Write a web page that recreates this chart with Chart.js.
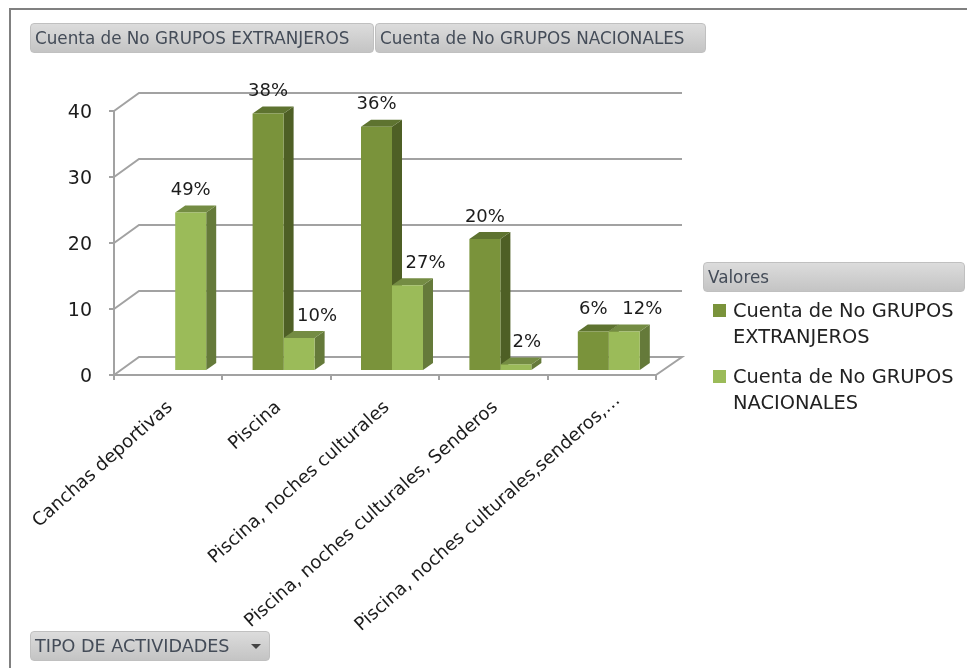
<!DOCTYPE html>
<html>
<head>
<meta charset="utf-8">
<title>Tipo de actividades</title>
<script src="https://cdn.jsdelivr.net/npm/chart.js@4"></script>
<style>
  html, body { margin: 0; padding: 0; background: #fff; overflow: hidden; }
  body { width: 967px; height: 668px; position: relative; font-family: "DejaVu Sans", sans-serif; }
  #frame { position: absolute; left: 9px; top: 8px; width: 958px; height: 660px; border-left: 2px solid #808080; border-top: 2px solid #808080; box-sizing: border-box; }
  #chart { position: absolute; left: 0; top: 0; }
  .field {
    position: absolute; box-sizing: border-box; height: 30px; line-height: 29px; padding-left: 4px;
    font-size: 16.8px; color: #444c58; white-space: nowrap; border-radius: 4px;
    background: linear-gradient(#dcdcdc, #c4c4c4); border: 1px solid #c0c0c0;
  }
  .arrow { position: absolute; right: 8px; top: 12px; width: 0; height: 0; border-left: 5px solid transparent; border-right: 5px solid transparent; border-top: 5px solid #444; }
  .legend-item { position: absolute; left: 733px; width: 234px; font-size: 19.4px; line-height: 26px; color: #222; white-space: nowrap; }
  .legend-item i { position: absolute; left: -20px; top: 6px; width: 13px; height: 13px; }
</style>
</head>
<body>
<div id="frame"></div>
<canvas id="chart" width="967" height="668"></canvas>
<div id="fields"></div>
<script>
const categories = [
  'Canchas deportivas',
  'Piscina',
  'Piscina, noches culturales',
  'Piscina, noches culturales, Senderos',
  'Piscina, noches culturales,senderos,…'
];
const seriesNames = ['Cuenta de No GRUPOS EXTRANJEROS', 'Cuenta de No GRUPOS NACIONALES'];
const extranjeros = [null, 39, 37, 20, 6];
const nacionales = [24, 5, 13, 1, 6];
const extranjerosPct = ['', '38%', '36%', '20%', '6%'];
const nacionalesPct = ['49%', '10%', '27%', '2%', '12%'];
const yTicks = [0, 10, 20, 30, 40];

const GRID = '#a2a2a2';
const FACES = [
  { front: '#7a933b', side: '#4e5f25', top: '#5e7330' },
  { front: '#9bbb59', side: '#657a3a', top: '#748c43' }
];
// floor and back wall are offset from the axes by this much
const WALL_X = 25, WALL_Y = -18;
// bars sit a little inside the floor, and have their own depth
const BAR_X = 7, BAR_Y = -4, DEPTH_X = 10, DEPTH_Y = -7;
const LABEL_ANGLE = 41.5 * Math.PI / 180;

function poly(ctx, color, pts) {
  ctx.fillStyle = color;
  ctx.beginPath();
  pts.forEach((p, i) => i ? ctx.lineTo(p[0], p[1]) : ctx.moveTo(p[0], p[1]));
  ctx.closePath();
  ctx.fill();
}

const box3d = {
  id: 'box3d',
  beforeDatasetsDraw(chart) {
    const { ctx, chartArea, scales } = chart;
    // side wall and back wall lines
    ctx.save();
    ctx.strokeStyle = GRID;
    ctx.lineWidth = 2;
    yTicks.forEach(v => {
      const y = scales.y.getPixelForValue(v);
      ctx.beginPath();
      ctx.moveTo(chartArea.left, y);
      ctx.lineTo(chartArea.left + WALL_X, y + WALL_Y);
      ctx.lineTo(chartArea.right + WALL_X + 1, y + WALL_Y);
      if (v === 0) ctx.lineTo(chartArea.right, y);
      ctx.stroke();
    });
    ctx.restore();

    // the bar fronts come from the library, shifted; side and top faces go under them
    ctx.save();
    ctx.translate(BAR_X, BAR_Y);
    [extranjeros, nacionales].forEach((values, ds) => {
      const bars = chart.getDatasetMeta(ds).data;
      values.forEach((v, i) => {
        if (v === null) return;
        const b = bars[i];
        const l = b.x - b.width / 2, r = b.x + b.width / 2;
        poly(ctx, FACES[ds].side, [[r, b.y], [r + DEPTH_X, b.y + DEPTH_Y], [r + DEPTH_X, b.base + DEPTH_Y], [r, b.base]]);
        poly(ctx, FACES[ds].top, [[l, b.y], [l + DEPTH_X, b.y + DEPTH_Y], [r + DEPTH_X, b.y + DEPTH_Y], [r, b.y]]);
      });
    });
  },
  afterDatasetsDraw(chart) {
    const { ctx, scales } = chart;
    ctx.restore();
    // nudged sideways where the label would sit on the taller neighbour
    const nudge = [[0, 0, 0, 0, 0], [0, 18, 18, 11, 18]];
    ctx.save();
    ctx.font = '18px "DejaVu Sans"';
    ctx.fillStyle = '#1c1c1c';
    ctx.textAlign = 'center';
    ctx.textBaseline = 'middle';
    [extranjerosPct, nacionalesPct].forEach((labels, ds) => {
      const bars = chart.getDatasetMeta(ds).data;
      labels.forEach((text, i) => {
        if (!text) return;
        ctx.fillText(text, bars[i].x + BAR_X + nudge[ds][i], bars[i].y + BAR_Y - 22);
      });
    });
    ctx.restore();

    // slanted category labels; the last, truncated one hangs further right
    ctx.save();
    ctx.font = '18.2px "DejaVu Sans"';
    ctx.fillStyle = '#1c1c1c';
    ctx.textAlign = 'right';
    ctx.textBaseline = 'middle';
    categories.forEach((text, i) => {
      const last = i === categories.length - 1;
      ctx.save();
      ctx.translate(scales.x.getPixelForTick(i) + (last ? 16 : 2), last ? 398 : 405);
      ctx.rotate(-LABEL_ANGLE);
      ctx.fillText(text, 0, 0);
      ctx.restore();
    });
    ctx.restore();
  }
};

new Chart(document.getElementById('chart'), {
  type: 'bar',
  data: {
    labels: categories,
    datasets: [
      { label: seriesNames[0], data: extranjeros, backgroundColor: FACES[0].front, clip: false },
      { label: seriesNames[1], data: nacionales, backgroundColor: FACES[1].front, clip: false }
    ]
  },
  options: {
    responsive: false,
    animation: false,
    categoryPercentage: 0.572,
    barPercentage: 1,
    layout: { padding: { top: 111, right: 311, left: 0, bottom: 0 } },
    plugins: { legend: { display: false }, tooltip: { enabled: false } },
    scales: {
      x: {
        afterFit(axis) { axis.height = 293; },
        border: { color: GRID, width: 2 },
        grid: { drawOnChartArea: false, color: GRID, lineWidth: 2, tickLength: 5 },
        ticks: { autoSkip: false, display: false }
      },
      y: {
        min: 0, max: 40,
        afterFit(axis) { axis.width = 114; },
        border: { color: GRID, width: 2 },
        grid: { drawOnChartArea: false, color: GRID, lineWidth: 2, tickLength: 5 },
        ticks: { stepSize: 10, padding: 17, labelOffset: 2, color: '#1c1c1c', font: { family: '"DejaVu Sans"', size: 19 } }
      }
    }
  },
  plugins: [box3d]
});

// pivot field buttons and the legend
const fields = document.getElementById('fields');
function addField(text, left, top, width, arrow) {
  const d = document.createElement('div');
  d.className = 'field';
  d.textContent = text;
  d.style.cssText = `left:${left}px;top:${top}px;width:${width}px`;
  if (arrow) {
    d.style.fontSize = '17.6px';
    d.innerHTML += '<span class="arrow"></span>';
  }
  fields.appendChild(d);
}
addField(seriesNames[0], 30, 23, 344);
addField(seriesNames[1], 375, 23, 331);
addField('Valores', 703, 262, 262);
addField('TIPO DE ACTIVIDADES', 30, 631, 240, true);

seriesNames.forEach((name, i) => {
  const d = document.createElement('div');
  d.className = 'legend-item';
  d.style.top = (298 + i * 66) + 'px';
  const parts = name.split(' ');
  d.innerHTML = `<i style="background:${FACES[i].front}"></i>${parts.slice(0, -1).join(' ')}<br>${parts[parts.length - 1]}`;
  fields.appendChild(d);
});
</script>
</body>
</html>
